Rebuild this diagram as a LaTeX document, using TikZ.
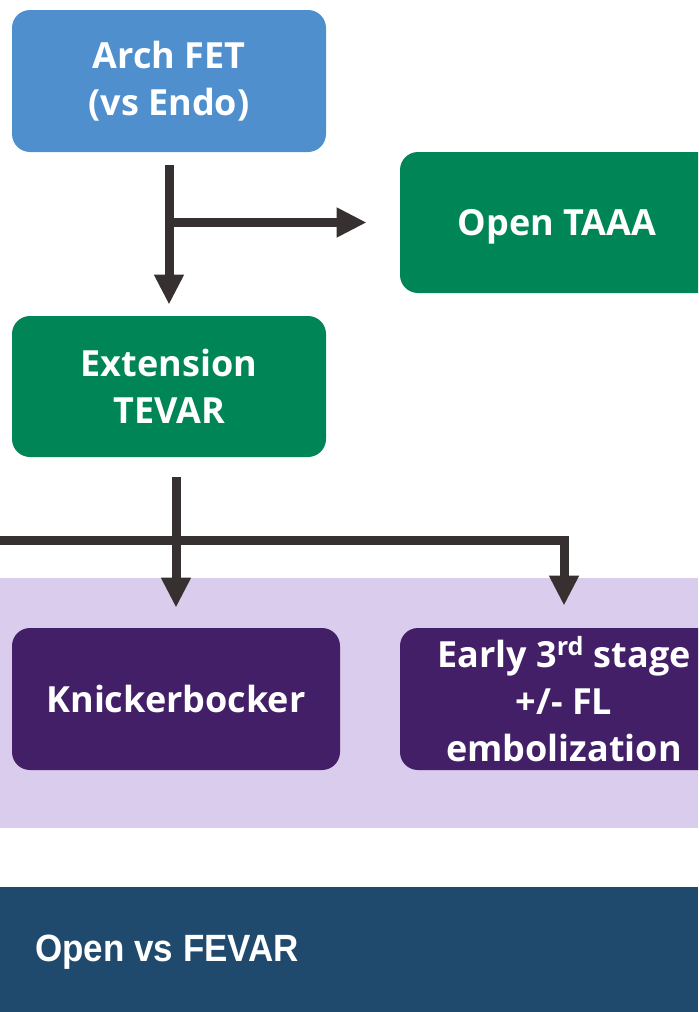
\documentclass[tikz,border=0pt]{standalone}
\usepackage{fontspec}
\setmainfont{Open Sans}
\newfontfamily\narrowfont[FakeStretch=0.92]{Liberation Sans}
\usetikzlibrary{arrows.meta}

\definecolor{archblue}{HTML}{4F8FCD}
\definecolor{stepgreen}{HTML}{008556}
\definecolor{bandlilac}{HTML}{D9CCEC}
\definecolor{deeppurple}{HTML}{421F66}
\definecolor{bandnavy}{HTML}{1F4A6E}
\definecolor{arrowgrey}{HTML}{363030}

\begin{document}
\begin{tikzpicture}[x=0.5pt, y=-0.5pt]
        \tikzstyle{box}=[rounded corners=9pt, text=white, align=center, inner sep=0pt,
                         font=\bfseries\fontsize{18}{23.5}\selectfont]
        \tikzstyle{flow}=[draw=arrowgrey, line width=4.5pt, -{Triangle[length=15pt, width=14pt]}]

        \useasboundingbox (0,0) rectangle (698,1012);
        \clip (0,0) rectangle (698,1012);

        % bands
        \fill[bandlilac] (0,578) rectangle (698,828);
        \fill[bandnavy] (0,887) rectangle (698,1012);
        \node (fevar) [anchor=west, text=white, inner sep=0pt,
                       font=\narrowfont\bfseries\fontsize{19}{20}\selectfont] at (35,952) {Open vs FEVAR};

        \node (arch)  [box, fill=archblue, minimum width=157pt, minimum height=71pt] at (169,81) {Arch FET\\(vs Endo)};
        \node (taaa)  [box, fill=stepgreen, minimum width=157pt, minimum height=70.5pt, text depth=0pt] at (557,222.5) {Open TAAA};
        \node (ext)   [box, fill=stepgreen, minimum width=157pt, minimum height=70.5pt] at (169,386.5) {Extension\\TEVAR};
        \node (knick) [box, fill=deeppurple, minimum width=164pt, minimum height=71pt] at (176,699) {Knickerbocker};
        \node (early) [box, fill=deeppurple, minimum width=164pt, minimum height=71pt] at (564,699) {Early 3\textsuperscript{rd} stage\\+/- FL\\embolization};

        \coordinate (feed) at (0,540);

        \draw[flow] ([yshift=-6.5pt]arch.south) -- ([yshift=5.5pt]ext.north);
        \draw[flow] (arch.south |- taaa.west) -- ([xshift=-16.5pt]taaa.west);
        \draw[flow] ([yshift=-10pt]ext.south -| knick.north) -- ([yshift=10pt]knick.north);
        \draw[flow] (feed) -| ([yshift=11pt]early.north);

\end{tikzpicture}
\end{document}
